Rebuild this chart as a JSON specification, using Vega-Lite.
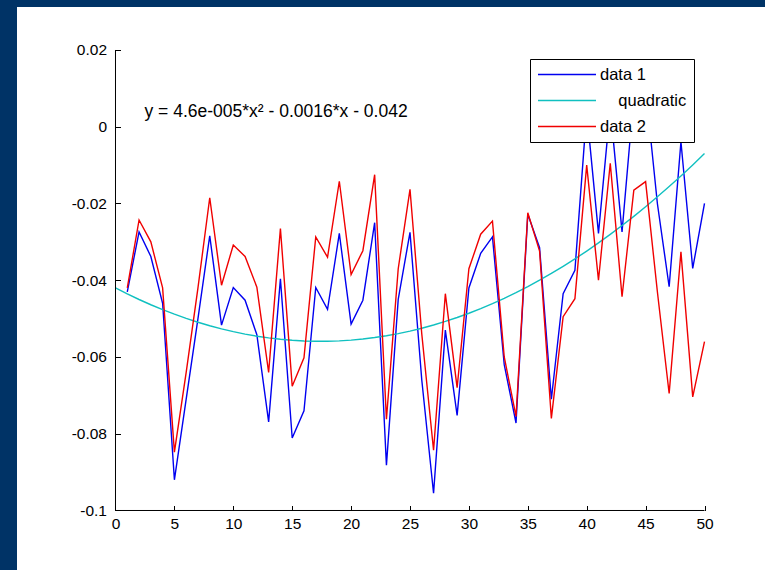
{
  "$schema": "https://vega.github.io/schema/vega-lite/v6.json",
  "autosize": "none",
  "width": 748,
  "height": 563,
  "padding": {"left": 17, "top": 7, "right": 0, "bottom": 0},
  "background": "#003366",
  "config": {
    "view": {"fill": "white", "stroke": null},
    "font": "Liberation Sans",
    "axis": {"domain": false, "grid": false, "tickColor": "black", "tickWidth": 1, "labelColor": "black", "labelFont": "Liberation Sans", "labelFontSize": 15.5, "title": null, "labelFlush": false, "labelOverlap": false, "labelBound": false},
    "legend": {"orient": "none", "legendX": 513, "legendY": 52, "strokeColor": "black", "fillColor": "white", "padding": 7, "symbolType": "stroke", "symbolSize": 3364, "symbolStrokeWidth": 1.4, "labelFont": "Liberation Sans", "labelFontSize": 16.5, "labelColor": "black", "labelOffset": 3, "rowPadding": 9, "clipHeight": 17, "labelLimit": 0, "cornerRadius": 0}
  },
  "datasets": {
    "d1": [
      {"x": 1, "y": -0.043, "series": "data 1"}, {"x": 2, "y": -0.0274, "series": "data 1"}, {"x": 3, "y": -0.0338, "series": "data 1"}, {"x": 4, "y": -0.046, "series": "data 1"}, {"x": 5, "y": -0.092, "series": "data 1"},
      {"x": 6, "y": -0.071, "series": "data 1"}, {"x": 7, "y": -0.05, "series": "data 1"}, {"x": 8, "y": -0.0284, "series": "data 1"}, {"x": 9, "y": -0.0517, "series": "data 1"}, {"x": 10, "y": -0.0419, "series": "data 1"},
      {"x": 11, "y": -0.0452, "series": "data 1"}, {"x": 12, "y": -0.0542, "series": "data 1"}, {"x": 13, "y": -0.0769, "series": "data 1"}, {"x": 14, "y": -0.0396, "series": "data 1"}, {"x": 15, "y": -0.0811, "series": "data 1"},
      {"x": 16, "y": -0.074, "series": "data 1"}, {"x": 17, "y": -0.0419, "series": "data 1"}, {"x": 18, "y": -0.0476, "series": "data 1"}, {"x": 19, "y": -0.0278, "series": "data 1"}, {"x": 20, "y": -0.0514, "series": "data 1"},
      {"x": 21, "y": -0.0452, "series": "data 1"}, {"x": 22, "y": -0.025, "series": "data 1"}, {"x": 23, "y": -0.0882, "series": "data 1"}, {"x": 24, "y": -0.045, "series": "data 1"}, {"x": 25, "y": -0.0275, "series": "data 1"},
      {"x": 26, "y": -0.066, "series": "data 1"}, {"x": 27, "y": -0.0955, "series": "data 1"}, {"x": 28, "y": -0.053, "series": "data 1"}, {"x": 29, "y": -0.0752, "series": "data 1"}, {"x": 30, "y": -0.042, "series": "data 1"},
      {"x": 31, "y": -0.033, "series": "data 1"}, {"x": 32, "y": -0.0287, "series": "data 1"}, {"x": 33, "y": -0.062, "series": "data 1"}, {"x": 34, "y": -0.0772, "series": "data 1"}, {"x": 35, "y": -0.0228, "series": "data 1"},
      {"x": 36, "y": -0.0315, "series": "data 1"}, {"x": 37, "y": -0.071, "series": "data 1"}, {"x": 38, "y": -0.0435, "series": "data 1"}, {"x": 39, "y": -0.0374, "series": "data 1"}, {"x": 40, "y": 0.004, "series": "data 1"},
      {"x": 41, "y": -0.0278, "series": "data 1"}, {"x": 42, "y": 0.005, "series": "data 1"}, {"x": 43, "y": -0.0274, "series": "data 1"}, {"x": 44, "y": 0.008, "series": "data 1"}, {"x": 45, "y": 0.01, "series": "data 1"},
      {"x": 46, "y": -0.02, "series": "data 1"}, {"x": 47, "y": -0.0417, "series": "data 1"}, {"x": 48, "y": -0.0039, "series": "data 1"}, {"x": 49, "y": -0.0369, "series": "data 1"}, {"x": 50, "y": -0.02, "series": "data 1"}
    ],
    "quad": [
      {"x": 0, "y": -0.042, "series": "quadratic"}, {"x": 1, "y": -0.043554, "series": "quadratic"}, {"x": 2, "y": -0.045016, "series": "quadratic"}, {"x": 3, "y": -0.046386, "series": "quadratic"}, {"x": 4, "y": -0.047664, "series": "quadratic"},
      {"x": 5, "y": -0.04885, "series": "quadratic"}, {"x": 6, "y": -0.049944, "series": "quadratic"}, {"x": 7, "y": -0.050946, "series": "quadratic"}, {"x": 8, "y": -0.051856, "series": "quadratic"}, {"x": 9, "y": -0.052674, "series": "quadratic"},
      {"x": 10, "y": -0.0534, "series": "quadratic"}, {"x": 11, "y": -0.054034, "series": "quadratic"}, {"x": 12, "y": -0.054576, "series": "quadratic"}, {"x": 13, "y": -0.055026, "series": "quadratic"}, {"x": 14, "y": -0.055384, "series": "quadratic"},
      {"x": 15, "y": -0.05565, "series": "quadratic"}, {"x": 16, "y": -0.055824, "series": "quadratic"}, {"x": 17, "y": -0.055906, "series": "quadratic"}, {"x": 18, "y": -0.055896, "series": "quadratic"}, {"x": 19, "y": -0.055794, "series": "quadratic"},
      {"x": 20, "y": -0.0556, "series": "quadratic"}, {"x": 21, "y": -0.055314, "series": "quadratic"}, {"x": 22, "y": -0.054936, "series": "quadratic"}, {"x": 23, "y": -0.054466, "series": "quadratic"}, {"x": 24, "y": -0.053904, "series": "quadratic"},
      {"x": 25, "y": -0.05325, "series": "quadratic"}, {"x": 26, "y": -0.052504, "series": "quadratic"}, {"x": 27, "y": -0.051666, "series": "quadratic"}, {"x": 28, "y": -0.050736, "series": "quadratic"}, {"x": 29, "y": -0.049714, "series": "quadratic"},
      {"x": 30, "y": -0.0486, "series": "quadratic"}, {"x": 31, "y": -0.047394, "series": "quadratic"}, {"x": 32, "y": -0.046096, "series": "quadratic"}, {"x": 33, "y": -0.044706, "series": "quadratic"}, {"x": 34, "y": -0.043224, "series": "quadratic"},
      {"x": 35, "y": -0.04165, "series": "quadratic"}, {"x": 36, "y": -0.039984, "series": "quadratic"}, {"x": 37, "y": -0.038226, "series": "quadratic"}, {"x": 38, "y": -0.036376, "series": "quadratic"}, {"x": 39, "y": -0.034434, "series": "quadratic"},
      {"x": 40, "y": -0.0324, "series": "quadratic"}, {"x": 41, "y": -0.030274, "series": "quadratic"}, {"x": 42, "y": -0.028056, "series": "quadratic"}, {"x": 43, "y": -0.025746, "series": "quadratic"}, {"x": 44, "y": -0.023344, "series": "quadratic"},
      {"x": 45, "y": -0.02085, "series": "quadratic"}, {"x": 46, "y": -0.018264, "series": "quadratic"}, {"x": 47, "y": -0.015586, "series": "quadratic"}, {"x": 48, "y": -0.012816, "series": "quadratic"}, {"x": 49, "y": -0.009954, "series": "quadratic"},
      {"x": 50, "y": -0.007, "series": "quadratic"}
    ],
    "d2": [
      {"x": 1, "y": -0.042, "series": "data 2"}, {"x": 2, "y": -0.0243, "series": "data 2"}, {"x": 3, "y": -0.03, "series": "data 2"}, {"x": 4, "y": -0.042, "series": "data 2"}, {"x": 5, "y": -0.0848, "series": "data 2"},
      {"x": 6, "y": -0.064, "series": "data 2"}, {"x": 7, "y": -0.042, "series": "data 2"}, {"x": 8, "y": -0.0185, "series": "data 2"}, {"x": 9, "y": -0.0413, "series": "data 2"}, {"x": 10, "y": -0.0308, "series": "data 2"},
      {"x": 11, "y": -0.0338, "series": "data 2"}, {"x": 12, "y": -0.0418, "series": "data 2"}, {"x": 13, "y": -0.064, "series": "data 2"}, {"x": 14, "y": -0.0265, "series": "data 2"}, {"x": 15, "y": -0.0676, "series": "data 2"},
      {"x": 16, "y": -0.0602, "series": "data 2"}, {"x": 17, "y": -0.0287, "series": "data 2"}, {"x": 18, "y": -0.034, "series": "data 2"}, {"x": 19, "y": -0.0142, "series": "data 2"}, {"x": 20, "y": -0.0385, "series": "data 2"},
      {"x": 21, "y": -0.0323, "series": "data 2"}, {"x": 22, "y": -0.0125, "series": "data 2"}, {"x": 23, "y": -0.0762, "series": "data 2"}, {"x": 24, "y": -0.037, "series": "data 2"}, {"x": 25, "y": -0.0163, "series": "data 2"},
      {"x": 26, "y": -0.054, "series": "data 2"}, {"x": 27, "y": -0.0843, "series": "data 2"}, {"x": 28, "y": -0.0435, "series": "data 2"}, {"x": 29, "y": -0.068, "series": "data 2"}, {"x": 30, "y": -0.037, "series": "data 2"},
      {"x": 31, "y": -0.028, "series": "data 2"}, {"x": 32, "y": -0.0246, "series": "data 2"}, {"x": 33, "y": -0.06, "series": "data 2"}, {"x": 34, "y": -0.0755, "series": "data 2"}, {"x": 35, "y": -0.0224, "series": "data 2"},
      {"x": 36, "y": -0.0324, "series": "data 2"}, {"x": 37, "y": -0.076, "series": "data 2"}, {"x": 38, "y": -0.0495, "series": "data 2"}, {"x": 39, "y": -0.0448, "series": "data 2"}, {"x": 40, "y": -0.01, "series": "data 2"},
      {"x": 41, "y": -0.04, "series": "data 2"}, {"x": 42, "y": -0.0095, "series": "data 2"}, {"x": 43, "y": -0.0443, "series": "data 2"}, {"x": 44, "y": -0.0165, "series": "data 2"}, {"x": 45, "y": -0.0143, "series": "data 2"},
      {"x": 46, "y": -0.043, "series": "data 2"}, {"x": 47, "y": -0.0695, "series": "data 2"}, {"x": 48, "y": -0.0326, "series": "data 2"}, {"x": 49, "y": -0.0704, "series": "data 2"}, {"x": 50, "y": -0.056, "series": "data 2"}
    ],
    "axes": [
      {"x": 0, "x2": 50, "y": -0.1, "y2": -0.1},
      {"x": 0, "x2": 0, "y": -0.1, "y2": 0.02}
    ],
    "note": [
      {"x": 2.46, "y": 0.0025, "label": "y = 4.6e-005*x² - 0.0016*x - 0.042"}
    ]
  },
  "encoding": {
    "x": {"field": "x", "type": "quantitative", "scale": {"domain": [-8.3616, 55.1358], "nice": false, "zero": false},
      "axis": {"values": [0, 5, 10, 15, 20, 25, 30, 35, 40, 45, 50], "offset": -59.5, "tickSize": -5, "labelPadding": 11, "format": "d", "title": null}},
    "y": {"field": "y", "type": "quantitative", "scale": {"domain": [-0.115505, 0.031205], "nice": false, "zero": false},
      "axis": {"values": [0.02, 0, -0.02, -0.04, -0.06, -0.08, -0.1], "offset": -98.5, "tickSize": -5, "labelPadding": 14, "title": null,
        "labelExpr": "datum.value == 0 ? '0' : datum.value < -0.09 ? '-0.1' : (datum.value < 0 ? '-' : '') + format(abs(datum.value), '.2f')"}}
  },
  "layer": [
    {"data": {"name": "d1"}, "mark": {"type": "line", "strokeWidth": 1.4},
      "encoding": {"color": {"field": "series", "type": "nominal", "scale": {"domain": ["data 1", "quadratic", "data 2"], "range": ["#0000f0", "#10c0c0", "#f00000"]},
        "legend": {"title": null, "labelExpr": "datum.label == 'quadratic' ? '\u200b\u00a0\u00a0\u00a0\u00a0quadratic' : datum.label"}}}},
    {"data": {"name": "quad"}, "mark": {"type": "line", "strokeWidth": 1.4},
      "encoding": {"color": {"field": "series", "type": "nominal", "legend": {"title": null, "labelExpr": "datum.label == 'quadratic' ? '\u200b\u00a0\u00a0\u00a0\u00a0quadratic' : datum.label"}}}},
    {"data": {"name": "d2"}, "mark": {"type": "line", "strokeWidth": 1.4},
      "encoding": {"color": {"field": "series", "type": "nominal", "legend": {"title": null, "labelExpr": "datum.label == 'quadratic' ? '\u200b\u00a0\u00a0\u00a0\u00a0quadratic' : datum.label"}}}},
    {"data": {"name": "axes"}, "mark": {"type": "rule", "color": "black", "strokeWidth": 1},
      "encoding": {"x2": {"field": "x2"}, "y2": {"field": "y2"}}},
    {"data": {"name": "note"}, "mark": {"type": "text", "align": "left", "baseline": "alphabetic", "fontSize": 17.5, "font": "Liberation Sans", "color": "black"},
      "encoding": {"text": {"field": "label", "type": "nominal"}}}
  ]
}
